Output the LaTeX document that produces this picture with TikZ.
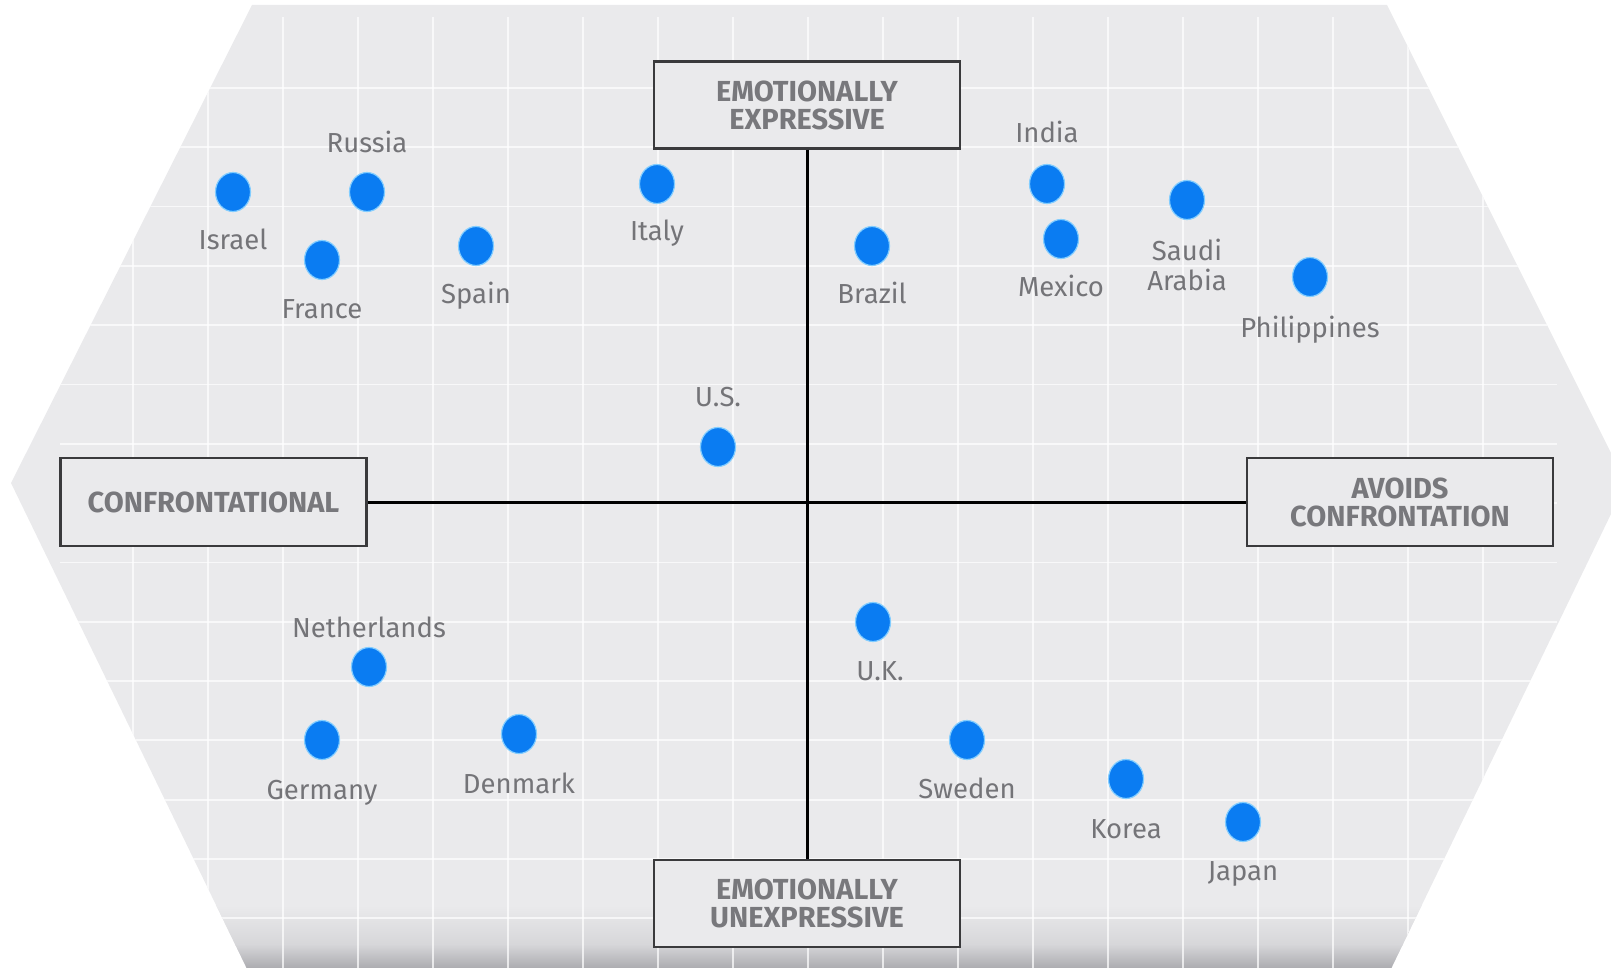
\documentclass[tikz,border=0pt]{standalone}
\usepackage{fontspec}
\setmainfont{Fira Sans}
\usetikzlibrary{shapes.geometric}
\definecolor{bg}{RGB}{234,234,236}
\definecolor{dotblue}{RGB}{10,124,242}
\definecolor{halo}{RGB}{130,205,255}
\definecolor{labgray}{RGB}{116,116,120}
\definecolor{boxtext}{RGB}{120,120,124}
\definecolor{boxline}{RGB}{58,58,60}
\definecolor{shadowc}{RGB}{172,172,176}
\definecolor{shadowm}{RGB}{214,214,217}
\begin{document}
\begin{tikzpicture}[x=1pt,y=-1pt,
 dot/.style={ellipse, minimum width=35pt, minimum height=39pt, inner sep=0pt, fill=dotblue, draw=halo, line width=1.2pt},
 lab/.style={anchor=base, text=labgray, font=\fontsize{27.5}{30}\selectfont, inner sep=0pt, align=center},
 axisbox/.style={draw=boxline, line width=2.5pt, fill=bg, minimum width=306pt, minimum height=87pt, inner sep=0pt, align=center, text=boxtext, font=\fontsize{29}{28}\bfseries\selectfont},
 axisline/.style={line width=3pt, black},
 gridline/.style={white, line width=1.8pt, opacity=0.7}]
\useasboundingbox (0,0) rectangle (1611,968);
\clip (0,0) rectangle (1611,968);
% hexagon background
\fill[bg] (252,5) -- (1387,5) -- (1626,483) -- (1388,975) -- (250,975) -- (11,483) -- cycle;
\begin{scope}
  \clip (252,5) -- (1387,5) -- (1626,483) -- (1388,975) -- (250,975) -- (11,483) -- cycle;
  \shade[top color=bg, bottom color=shadowm] (0,905) rectangle (1611,945);
  \shade[top color=shadowm, bottom color=shadowc] (0,944.5) rectangle (1611,968);
  \clip (60,0) rectangle (1557,968);
  \foreach \x in {133,208,...,1483} \draw[gridline] (\x,17) -- (\x,968);
  \foreach \k in {0,...,14} \draw[gridline] (60,{88+59.3*\k}) -- (1557,{88+59.3*\k});
\end{scope}
% axis boxes
\node[axisbox] (top) at (807,105) {EMOTIONALLY\\EXPRESSIVE};
\node[axisbox] (bottom) at (807,903.5) {EMOTIONALLY\\UNEXPRESSIVE};
\node[axisbox, minimum height=88pt] (left) at (213.5,502) {CONFRONTATIONAL};
\node[axisbox, minimum height=88pt] (right) at (1400,502) {AVOIDS\\CONFRONTATION};
\draw[axisline] (top) -- (bottom);
\draw[axisline] (left) -- (right);
% countries
\node[dot] (israel) at (233,192) {};
\node[lab] (israel-l) at (233,250) {Israel};
\node[dot] (russia) at (367,192) {};
\node[lab] (russia-l) at (367,153) {Russia};
\node[dot] (france) at (322,260) {};
\node[lab] (france-l) at (322,318) {France};
\node[dot] (spain) at (476,246) {};
\node[lab] (spain-l) at (476,304) {Spain};
\node[dot] (italy) at (657,184) {};
\node[lab] (italy-l) at (657,241) {Italy};
\node[dot] (brazil) at (872,246) {};
\node[lab] (brazil-l) at (872,304) {Brazil};
\node[dot] (india) at (1047,184) {};
\node[lab] (india-l) at (1047,143) {India};
\node[dot] (mexico) at (1061,239) {};
\node[lab] (mexico-l) at (1061,297) {Mexico};
\node[dot] (saudi) at (1187,200) {};
\node[lab, anchor=center] (saudi-l) at (1187,265) {Saudi\\Arabia};
\node[dot] (phil) at (1310,277) {};
\node[lab] (phil-l) at (1310,337) {Philippines};
\node[dot] (us) at (718,447) {};
\node[lab] (us-l) at (718,406) {U.S.};
\node[dot] (neth) at (369,667) {};
\node[lab] (neth-l) at (369,637) {Netherlands};
\node[dot] (germany) at (322,740) {};
\node[lab] (germany-l) at (322,799) {Germany};
\node[dot] (denmark) at (519,734) {};
\node[lab] (denmark-l) at (519,793) {Denmark};
\node[dot] (uk) at (873,622) {};
\node[lab] (uk-l) at (880,680) {U.K.};
\node[dot] (sweden) at (967,740) {};
\node[lab] (sweden-l) at (967,798) {Sweden};
\node[dot] (korea) at (1126,779) {};
\node[lab] (korea-l) at (1126,838) {Korea};
\node[dot] (japan) at (1243,822) {};
\node[lab] (japan-l) at (1243,880) {Japan};
\end{tikzpicture}
\end{document}
